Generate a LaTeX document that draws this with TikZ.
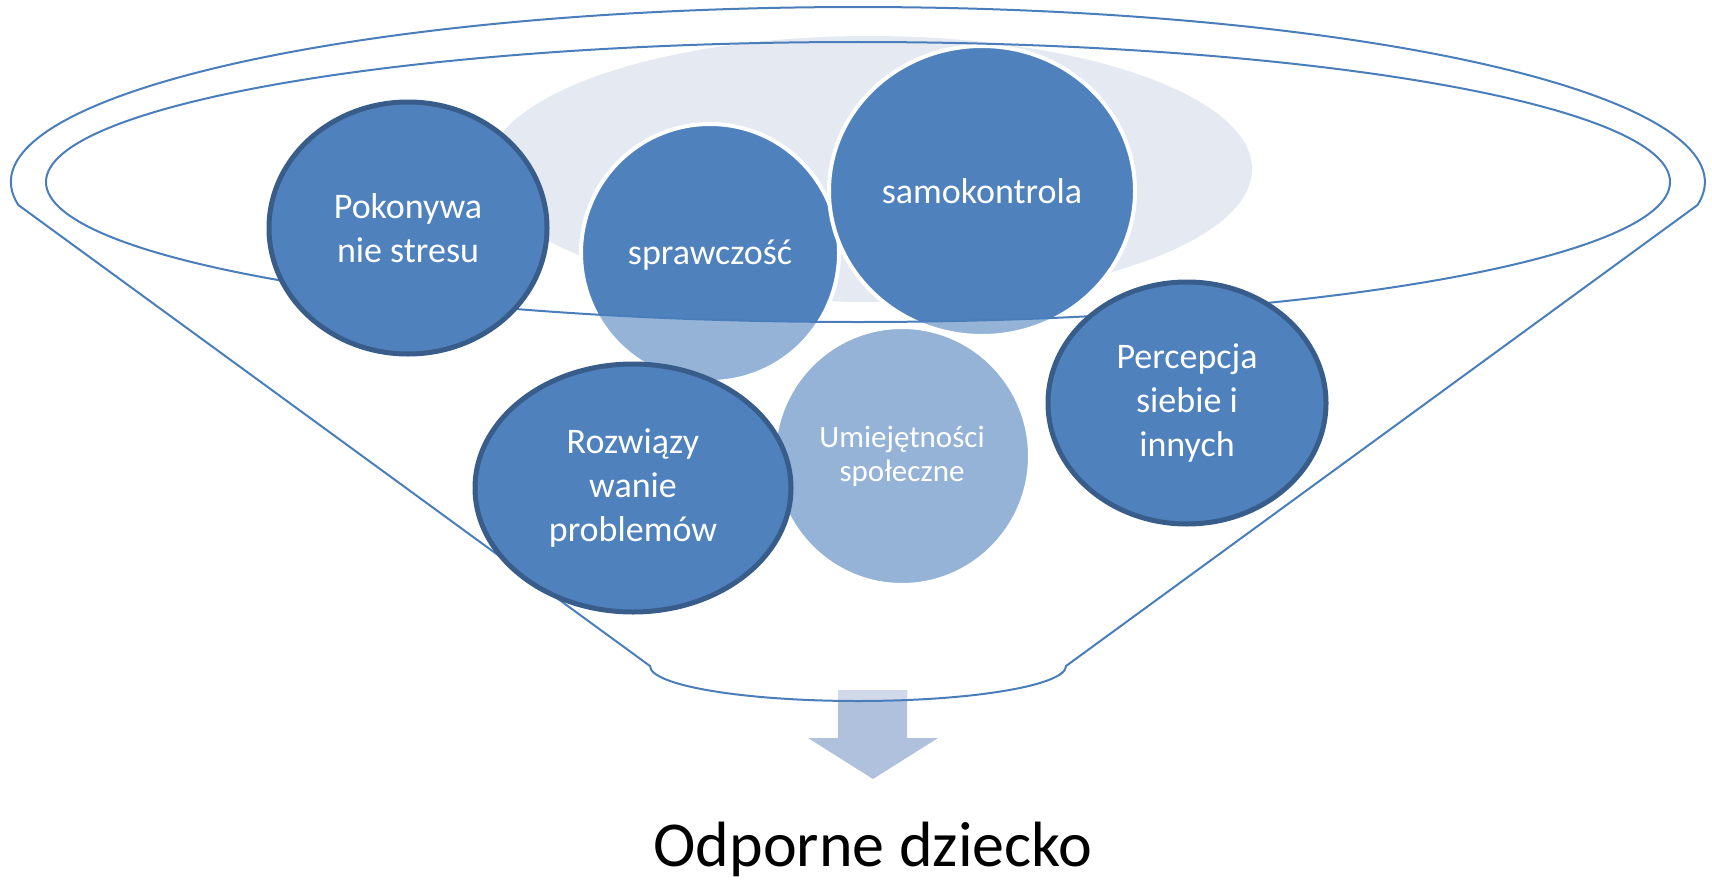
\documentclass[tikz,border=0pt]{standalone}
\usepackage{fontspec}
\setmainfont{Carlito}
\usetikzlibrary{shapes.geometric}
\definecolor{darkfill}{RGB}{79,129,189}
\definecolor{darkedge}{RGB}{56,93,138}
\definecolor{lightfill}{RGB}{149,179,215}
\definecolor{bgpale}{RGB}{228,233,242}
\definecolor{funnelline}{RGB}{74,126,187}
\definecolor{arrowlow}{RGB}{176,193,222}
\definecolor{arrowhigh}{RGB}{208,216,234}
\begin{document}
\begin{tikzpicture}[x=1pt,y=-1pt,
  funnel/.style={draw=funnelline, line width=2pt},
  bubble/.style={ellipse, fill=darkfill, draw=darkedge, line width=5pt, text=white,
    align=center, inner sep=0pt, font=\fontsize{36}{44}\selectfont},
  bubbletext/.style={text=white, align=center, inner sep=0pt, font=\fontsize{36}{44}\selectfont},
  whiteedge/.style={draw=white, line width=4pt}]
\useasboundingbox (0,0) rectangle (1712,883);

% pale background ellipse
\fill[bgpale] (870,169) ellipse [x radius=382, y radius=133];

% arrow
\fill[arrowlow] (838,690) -- (907,690) -- (907,738) -- (938,738) -- (873,779) -- (808,738) -- (838,738) -- cycle;
\begin{scope}
  \clip (600,560) -- (650,666) arc[start angle=180, end angle=0, x radius=208, y radius=35] -- (1120,560) -- cycle;
  \fill[arrowhigh] (838,690) -- (907,690) -- (907,738) -- (938,738) -- (873,779) -- (808,738) -- (838,738) -- cycle;
\end{scope}

% funnel outline
\draw[funnel] (18.3,205) arc[start angle=172.45, end angle=367.55, x radius=847, y radius=175]
  -- (1066,666) arc[start angle=0, end angle=180, x radius=208, y radius=35] -- cycle;

% social skills
\node[ellipse, fill=lightfill, whiteedge, minimum width=256pt, minimum height=258pt,
  text=white, align=center, inner sep=0pt, font=\fontsize{31}{34}\selectfont]
  (umiej) at (902,456) {Umiejętności\\społeczne};

% sprawczosc
\fill[lightfill] (710,253) circle [radius=129];
\begin{scope}
  \clip (858,182) ellipse [x radius=812, y radius=140];
  \fill[darkfill] (710,253) circle [radius=129];
\end{scope}
\draw[whiteedge] (710,253) circle [radius=129];
\node[bubbletext] (spraw) at (710,255) {sprawczość};

% samokontrola
\fill[lightfill] (982,191) ellipse [x radius=153, y radius=145];
\begin{scope}
  \clip (858,182) ellipse [x radius=812, y radius=140];
  \fill[darkfill] (982,191) ellipse [x radius=153, y radius=145];
\end{scope}
\draw[whiteedge] (982,191) ellipse [x radius=153, y radius=145];
\node[bubbletext] (samo) at (982,191) {samokontrola};

% inner rim of the funnel
\draw[funnel] (858,182) ellipse [x radius=812, y radius=140];

% dark bubbles
\node[bubble, minimum width=278pt, minimum height=252pt] (pokon) at (408,228) {Pokonywa\\nie stresu};
\node[bubble, minimum width=316pt, minimum height=248pt] (rozw) at (633,488) {Rozwiązy\\wanie\\problemów};
\node[bubble, minimum width=278pt, minimum height=242pt] (perc) at (1187,403) {Percepcja\\siebie i\\innych};

% result
\node[anchor=base, inner sep=0pt, font=\fontsize{64}{77}\selectfont] (result) at (873,866) {Odporne dziecko};
\end{tikzpicture}
\end{document}
